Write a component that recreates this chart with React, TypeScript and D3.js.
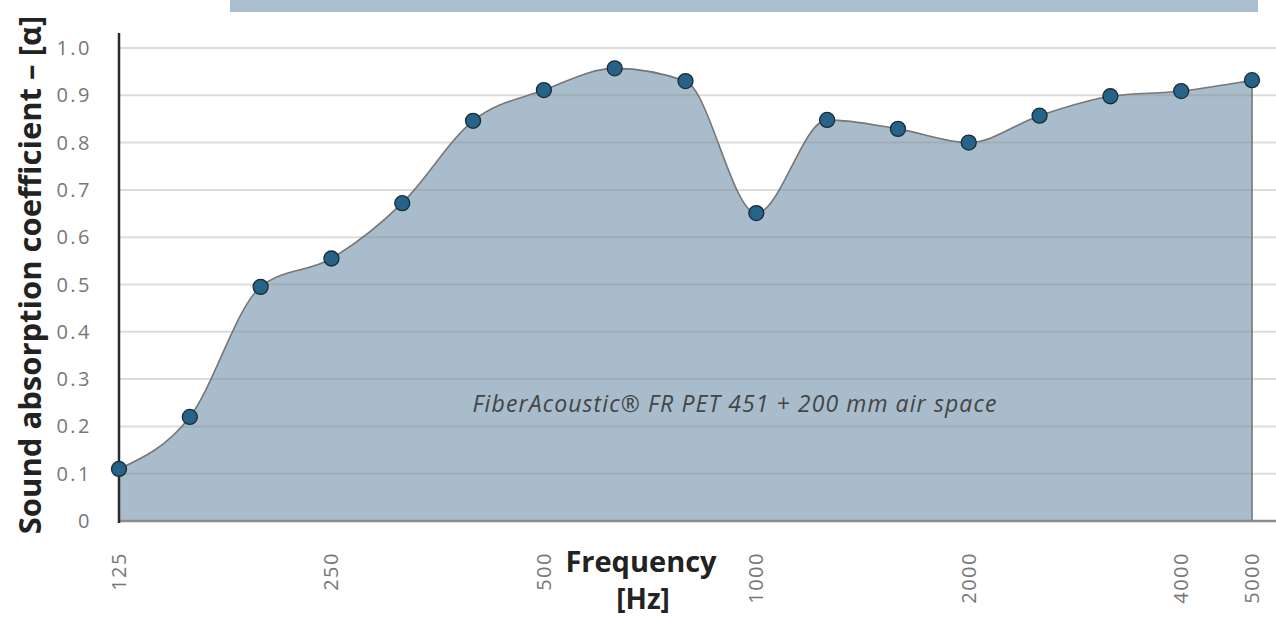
import * as d3 from "d3";

// 1/3 octave bands and absorption values
const freqs = ["125", "160", "200", "250", "315", "400", "500", "630", "800", "1000", "1250", "1600", "2000", "2500", "3150", "4000", "5000"];
const alpha = [0.11, 0.22, 0.495, 0.555, 0.672, 0.846, 0.911, 0.957, 0.93, 0.651, 0.848, 0.829, 0.8, 0.857, 0.898, 0.909, 0.932];
const xTickLabels = ["125", "250", "500", "1000", "2000", "4000", "5000"];
const yTicks = [0, 0.1, 0.2, 0.3, 0.4, 0.5, 0.6, 0.7, 0.8, 0.9, 1.0];

const W = 1276;
const H = 618;
const left = 119;
const plotRight = 1252;
const gridRight = 1276;

export default function App() {
  const x = d3.scalePoint<string>().domain(freqs).range([left, plotRight]);
  const y = d3.scaleLinear().domain([0, 1]).range([521, 48]);

  const data = freqs.map((f, i) => ({ f, v: alpha[i] }));

  const area = d3
    .area<{ f: string; v: number }>()
    .x((d) => x(d.f)!)
    .y0(y(0))
    .y1((d) => y(d.v))
    .curve(d3.curveMonotoneX);

  const line = d3
    .line<{ f: string; v: number }>()
    .x((d) => x(d.f)!)
    .y((d) => y(d.v))
    .curve(d3.curveMonotoneX);

  const last = data[data.length - 1];
  const tickFont = "'Open Sans', sans-serif";

  return (
    <svg
      width={W}
      height={H}
      style={{ position: "absolute", left: 0, top: 0, background: "#fff" }}
    >
      {/* band at the top */}
      <rect x={230} y={0} width={1028} height={12} fill="#a9bfcf" />

      {/* filled area */}
      <path d={area(data)!} fill="#a8bccb" />

      {/* grid, drawn over the fill so it shows darker inside */}
      {yTicks
        .filter((t) => t > 0)
        .map((t) => (
          <line
            key={t}
            x1={left}
            x2={gridRight}
            y1={y(t)}
            y2={y(t)}
            stroke="#8a8a8a"
            strokeOpacity={0.3}
            strokeWidth={2}
          />
        ))}

      <path d={line(data)!} fill="none" stroke="#777" strokeWidth={1.6} />
      <line
        x1={x(last.f)}
        x2={x(last.f)}
        y1={y(last.v)}
        y2={y(0)}
        stroke="#777"
        strokeWidth={1.6}
      />

      {/* baseline + y axis */}
      <line x1={left} x2={gridRight} y1={y(0)} y2={y(0)} stroke="#8c8c8c" strokeWidth={2.5} />
      <line x1={left} x2={left} y1={33} y2={y(0) + 2} stroke="#2b2b2b" strokeWidth={2.5} />

      {/* points */}
      {data.map((d) => (
        <circle
          key={d.f}
          cx={x(d.f)}
          cy={y(d.v)}
          r={7.5}
          fill="#276389"
          stroke="#1b2b36"
          strokeWidth={1.3}
        />
      ))}

      {/* y tick labels */}
      {yTicks.map((t) => (
        <text
          key={t}
          x={92}
          y={y(t)}
          dy="0.35em"
          textAnchor="end"
          fontFamily={tickFont}
          fontSize={20}
          letterSpacing={2.5}
          fill="#777"
        >
          {t === 0 ? "0" : t.toFixed(1)}
        </text>
      ))}

      {/* x tick labels */}
      {xTickLabels.map((f) => (
        <text
          key={f}
          transform={`translate(${x(f)},552) rotate(-90)`}
          dy="0.35em"
          textAnchor="end"
          fontFamily={tickFont}
          fontSize={20}
          letterSpacing={1.5}
          fill="#777"
        >
          {f}
        </text>
      ))}

      {/* axis titles */}
      <text
        transform="translate(41,275) rotate(-90)"
        textAnchor="middle"
        fontFamily={tickFont}
        fontWeight="bold"
        fontSize={31}
        fill="#222"
      >
        Sound absorption coefficient – [α]
      </text>
      <text x={641} y={572} textAnchor="middle" fontFamily={tickFont} fontWeight="bold" fontSize={29} fill="#222">
        Frequency
      </text>
      <text x={643} y={609} textAnchor="middle" fontFamily={tickFont} fontWeight="bold" fontSize={28} fill="#222">
        [Hz]
      </text>

      {/* series note */}
      <text
        x={735}
        y={412}
        textAnchor="middle"
        fontFamily={tickFont}
        fontStyle="italic"
        fontSize={23}
        letterSpacing={1.1}
        fill="#444"
      >
        FiberAcoustic® FR PET 451 + 200 mm air space
      </text>
    </svg>
  );
}
